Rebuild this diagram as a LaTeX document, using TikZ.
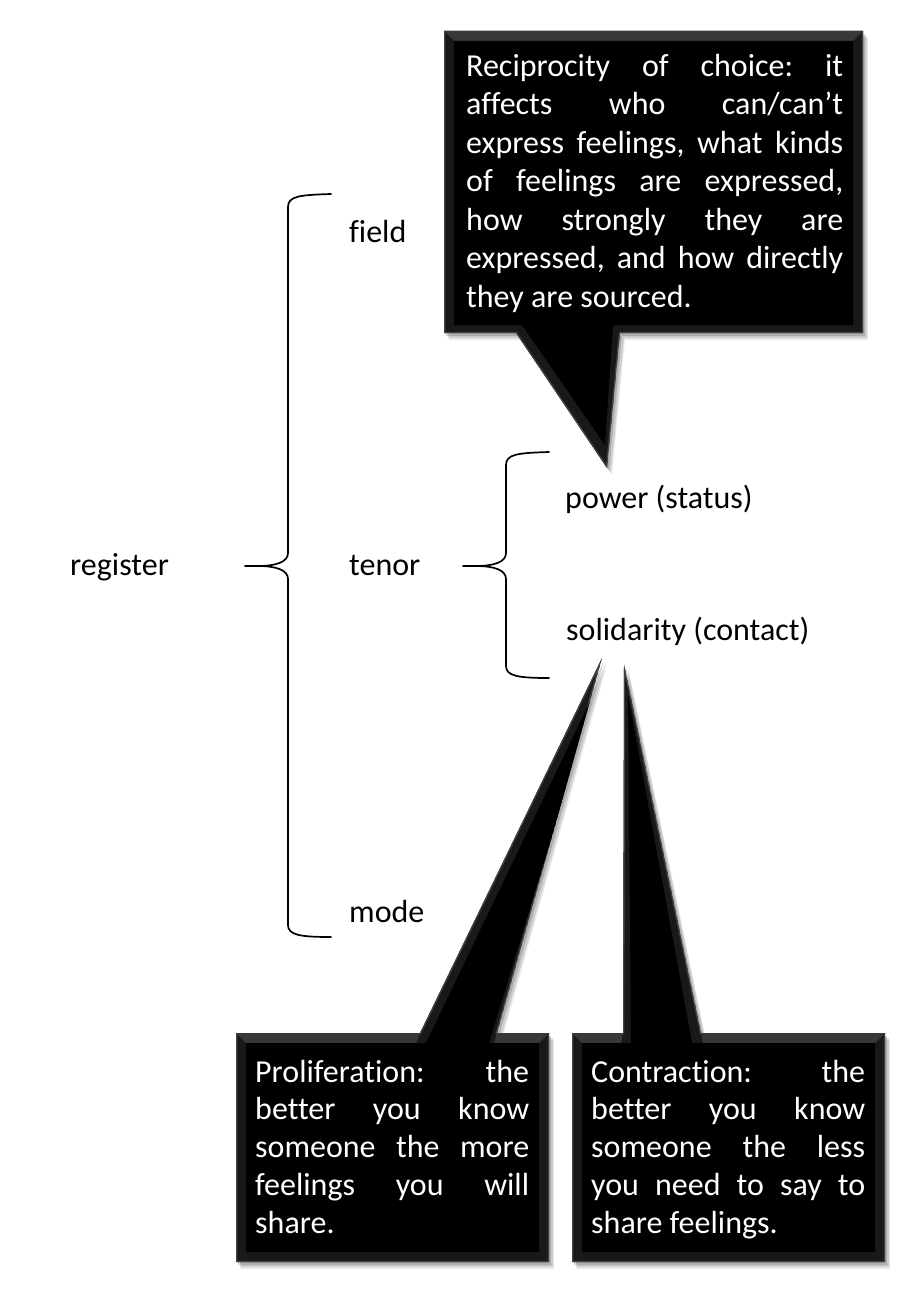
\documentclass[tikz,border=0pt]{standalone}
\usepackage{fontspec}
\setmainfont{Carlito}[Ligatures=NoCommon]
\newcommand\lblfont{\fontsize{32}{38.5}\selectfont}
\newcommand\topfont{\fontsize{32}{38.5}\selectfont\frenchspacing}
\newcommand\botfont{\fontsize{32}{37.8}\selectfont\frenchspacing}
\newcommand\natsp{\spaceskip=0pt\xspaceskip=0pt\relax}
\newcommand\jl[2]{\makebox[#1pt][s]{\natsp\strut #2}}
\tikzset{
  lbl/.style={anchor=base west, inner sep=0pt, font=\lblfont, text=black},
  calltext/.style={anchor=north west, inner sep=0pt, align=left, text=white},
  bracepath/.style={line width=1.7pt, line cap=round, line join=round, draw=black},
  shad1/.style={fill=black, opacity=0.08, shift={(5,7)}},
  shad2/.style={fill=black, opacity=0.12, shift={(4,5)}},
  shad3/.style={fill=black, opacity=0.16, shift={(2,3)}},
  bevelband/.style={fill=black!90},
  beveledge/.style={line width=2.5pt, draw=black!74, line join=miter},
  callcore/.style={fill=black},
}
\begin{document}
\begin{tikzpicture}[x=1pt, y=-1pt]
\useasboundingbox (0,0) rectangle (914,1289);

% top callout
\fill[shad1] (444,31) -- (863,31) -- (863,333) -- (620,333) -- (607,468) -- (516,333) -- (444,333) -- cycle;
\fill[shad2] (444,31) -- (863,31) -- (863,333) -- (620,333) -- (607,468) -- (516,333) -- (444,333) -- cycle;
\fill[shad3] (444,31) -- (863,31) -- (863,333) -- (620,333) -- (607,468) -- (516,333) -- (444,333) -- cycle;
\begin{scope}
  \clip (444,31) -- (863,31) -- (863,333) -- (620,333) -- (607,468) -- (516,333) -- (444,333) -- cycle;
  \fill[bevelband] (444,31) -- (863,31) -- (863,333) -- (620,333) -- (607,468) -- (516,333) -- (444,333) -- cycle;
  \draw[beveledge] (444,31) -- (863,31) -- (863,333) -- (620,333) -- (607,468) -- (516,333) -- (444,333) -- cycle;
  \fill[black!78] (444,31) -- (863,31) -- (853,41) -- (454,41) -- cycle;
  \fill[callcore] (454,41) -- (853,41) -- (853,325) -- (613,325) -- (605,445) -- (522,325) -- (454,325) -- cycle;
\end{scope}

% bottom-left callout
\fill[shad1] (236,1033) -- (420,1033) -- (602,658) -- (497,1033) -- (549,1033) -- (549,1262) -- (236,1262) -- cycle;
\fill[shad2] (236,1033) -- (420,1033) -- (602,658) -- (497,1033) -- (549,1033) -- (549,1262) -- (236,1262) -- cycle;
\fill[shad3] (236,1033) -- (420,1033) -- (602,658) -- (497,1033) -- (549,1033) -- (549,1262) -- (236,1262) -- cycle;
\begin{scope}
  \clip (236,1033) -- (420,1033) -- (602,658) -- (497,1033) -- (549,1033) -- (549,1262) -- (236,1262) -- cycle;
  \fill[bevelband] (236,1033) -- (420,1033) -- (602,658) -- (497,1033) -- (549,1033) -- (549,1262) -- (236,1262) -- cycle;
  \draw[beveledge] (236,1033) -- (420,1033) -- (602,658) -- (497,1033) -- (549,1033) -- (549,1262) -- (236,1262) -- cycle;
  \fill[black!78] (236,1033) -- (420,1033) -- (416,1043) -- (246,1043) -- cycle;
  \fill[black!78] (497,1033) -- (549,1033) -- (539,1043) -- (494,1043) -- cycle;
  \fill[callcore] (246,1043) -- (426,1043) -- (598,685) -- (489,1043) -- (539,1043) -- (539,1252) -- (246,1252) -- cycle;
\end{scope}

% bottom-right callout
\fill[shad1] (572,1033) -- (623,1033) -- (624,664) -- (701,1033) -- (885,1033) -- (885,1262) -- (572,1262) -- cycle;
\fill[shad2] (572,1033) -- (623,1033) -- (624,664) -- (701,1033) -- (885,1033) -- (885,1262) -- (572,1262) -- cycle;
\fill[shad3] (572,1033) -- (623,1033) -- (624,664) -- (701,1033) -- (885,1033) -- (885,1262) -- (572,1262) -- cycle;
\begin{scope}
  \clip (572,1033) -- (623,1033) -- (624,664) -- (701,1033) -- (885,1033) -- (885,1262) -- (572,1262) -- cycle;
  \fill[bevelband] (572,1033) -- (623,1033) -- (624,664) -- (701,1033) -- (885,1033) -- (885,1262) -- (572,1262) -- cycle;
  \draw[beveledge] (572,1033) -- (623,1033) -- (624,664) -- (701,1033) -- (885,1033) -- (885,1262) -- (572,1262) -- cycle;
  \fill[black!78] (572,1033) -- (623,1033) -- (621,1043) -- (582,1043) -- cycle;
  \fill[black!78] (701,1033) -- (885,1033) -- (875,1043) -- (703,1043) -- cycle;
  \fill[callcore] (582,1043) -- (631,1043) -- (628,695) -- (692,1043) -- (875,1043) -- (875,1252) -- (582,1252) -- cycle;
\end{scope}

% callout texts
\node[calltext, font=\topfont, text width=377pt] (recip) at (466,49.05) {\natsp
\jl{377}{Reciprocity of choice: it}\\
\jl{377}{affects who can/can’t}\\
\jl{377}{express feelings, what kinds}\\
\jl{377}{of feelings are expressed,}\\
\jl{377}{how strongly they are}\\
\jl{377}{expressed, and how directly}\\
\strut they are sourced.};

\node[calltext, font=\botfont, text width=274pt] (prolif) at (255,1055.5) {\natsp
\jl{274}{Proliferation: the}\\
\jl{274}{better you know}\\
\jl{274}{someone the more}\\
\jl{274}{feelings you will}\\
\strut share.};

\node[calltext, font=\botfont, text width=274pt] (contr) at (591,1055.5) {\natsp
\jl{274}{Contraction: the}\\
\jl{274}{better you know}\\
\jl{274}{someone the less}\\
\jl{274}{you need to say to}\\
\strut share feelings.};

% labels
\node[lbl] (register) at (70,575) {register};
\node[lbl] (tenor) at (349,575) {tenor};
\node[lbl] (field) at (349,243) {field};
\node[lbl] (mode) at (349,922) {mode};
\node[lbl] (power) at (565,508) {power (status)};
\node[lbl] (solid) at (566,640) {solidarity (contact)};

% braces
\draw[bracepath] (331,194) .. controls (300,195) and (288,196) .. (288,207)
  -- (288,553) .. controls (288,562) and (276,566) .. (258,566) -- (245,566)
  -- (258,566) .. controls (276,566) and (288,570) .. (288,579)
  -- (288,925) .. controls (288,935) and (300,937) .. (331,937);
\draw[bracepath] (549,452) .. controls (518,453) and (506,454) .. (506,465)
  -- (506,553) .. controls (506,562) and (494,566) .. (476,566) -- (463,566)
  -- (476,566) .. controls (494,566) and (506,570) .. (506,579)
  -- (506,666) .. controls (506,676) and (518,678) .. (549,678);
\end{tikzpicture}
\end{document}
